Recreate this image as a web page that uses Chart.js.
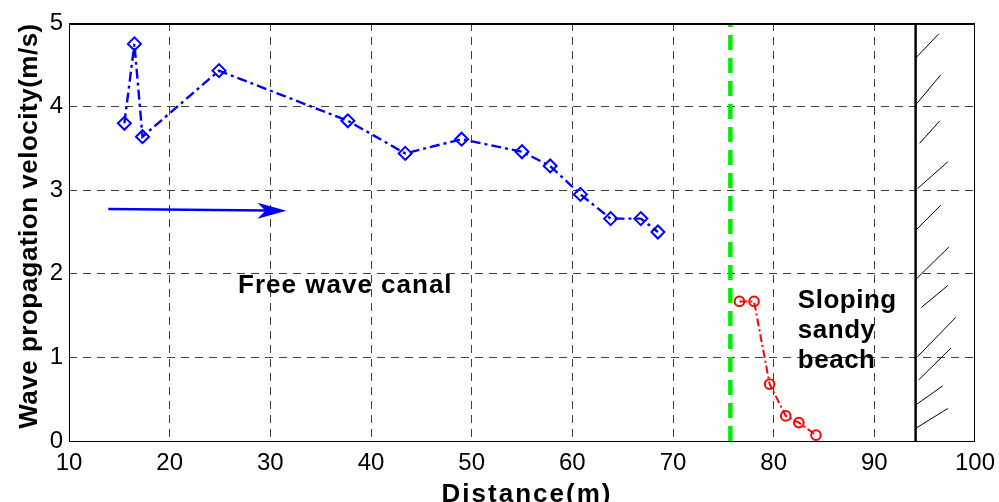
<!DOCTYPE html>
<html>
<head>
<meta charset="utf-8">
<script src="https://cdn.jsdelivr.net/npm/chart.js@4.4.1/dist/chart.umd.min.js"></script>
<style>
  html, body { margin: 0; padding: 0; background: #fff; }
  #wrap { width: 999px; height: 502px; }
</style>
</head>
<body>
<div id="wrap"><canvas id="grafico" width="999" height="502"></canvas></div>
<script>
// dados
var distCanal = [15.5, 16.5, 17.3, 24.9, 37.7, 43.4, 49.0, 55.0, 57.8, 60.8, 63.8, 66.8, 68.5];
var velCanal  = [3.80, 4.75, 3.64, 4.43, 3.83, 3.44, 3.61, 3.46, 3.29, 2.95, 2.66, 2.66, 2.50];
var distPraia = [76.6, 78.05, 79.6, 81.2, 82.5, 84.2];
var velPraia  = [1.67, 1.67, 0.68, 0.30, 0.22, 0.07];
var xTicks = [10, 20, 30, 40, 50, 60, 70, 80, 90, 100];
var yTicks = [0, 1, 2, 3, 4, 5];
var linhaVerde = 75.7;   // inicio da praia
var parede = 94.1;       // parede do fundo
// hachura da parede: [x1, y1, x2, y2]
var hachura = [
  [94.1, 4.58, 96.4, 4.87],
  [94.1, 4.02, 96.6, 4.38],
  [94.5, 3.56, 96.5, 3.83],
  [94.3, 3.02, 97.3, 3.34],
  [94.1, 2.52, 96.6, 2.82],
  [94.1, 1.93, 97.4, 2.32],
  [94.7, 1.60, 97.3, 1.86],
  [94.3, 1.01, 98.1, 1.48],
  [94.4, 0.73, 97.6, 1.11],
  [94.1, 0.43, 96.8, 0.66],
  [94.1, 0.15, 97.3, 0.39]
];
var setaIni = [13.9, 2.775];
var setaFim = [31.6, 2.755];

var fonte = "'Liberation Sans', Arial, sans-serif";

function pontos(xs, ys) {
  var arr = [];
  for (let i = 0; i < xs.length; i++) arr.push({x: xs[i], y: ys[i]});
  return arr;
}

var datasets = [{
    data: pontos(distCanal, velCanal),
    showLine: true,
    borderColor: '#0000ff',
    borderWidth: 2.4,
    borderDash: [10, 4, 3, 4],
    pointStyle: 'rectRot',
    pointRadius: 6.5,
    pointBorderWidth: 2,
    pointBorderColor: '#0000ff',
    pointBackgroundColor: 'rgba(0,0,0,0)'
  }, {
    data: pontos(distPraia, velPraia),
    showLine: true,
    borderColor: '#ff0000',
    borderWidth: 2,
    borderDash: [8, 3, 2, 3],
    pointStyle: 'circle',
    pointRadius: 4.8,
    pointBorderWidth: 2,
    pointBorderColor: '#ff0000',
    pointBackgroundColor: 'rgba(0,0,0,0)'
  }, {
    data: [{x: linhaVerde, y: 0}, {x: linhaVerde, y: 5}],
    showLine: true,
    borderColor: '#00ee00',
    borderWidth: 4.5,
    borderDash: [15, 8],
    pointRadius: 0
  }, {
    data: [{x: parede, y: 0}, {x: parede, y: 5}],
    showLine: true,
    borderColor: '#000',
    borderWidth: 2.5,
    pointRadius: 0
  }];

for (let i = 0; i < hachura.length; i++) {
  var h = hachura[i];
  datasets.push({
    data: [{x: h[0], y: h[1]}, {x: h[2], y: h[3]}],
    showLine: true,
    borderColor: '#000',
    borderWidth: 1,
    pointRadius: 0
  });
}

function corGrade(inicio, fim) {
  return function(c) {
    if (!c.tick) return 'rgba(0,0,0,0)';
    var v = c.tick.value;
    return (v === inicio || v === fim) ? 'rgba(0,0,0,0)' : 'rgba(0,0,0,0.75)';
  };
}

// seta, textos e moldura
var extras = {
  id: 'extras',
  afterDatasetsDraw: function(chart) {
    var ctx = chart.ctx, xs = chart.scales.x, ys = chart.scales.y, a = chart.chartArea;
    ctx.save();
    // moldura
    ctx.strokeStyle = '#000';
    ctx.lineWidth = 1;
    ctx.strokeRect(a.left + 0.5, a.top + 0.5, a.right - a.left - 1, a.bottom - a.top);
    ctx.lineWidth = 2;
    ctx.beginPath(); ctx.moveTo(a.left, a.top + 1); ctx.lineTo(a.right, a.top + 1); ctx.stroke();

    // seta azul
    var x1 = xs.getPixelForValue(setaIni[0]), y1 = ys.getPixelForValue(setaIni[1]);
    var x2 = xs.getPixelForValue(setaFim[0]), y2 = ys.getPixelForValue(setaFim[1]);
    ctx.strokeStyle = '#0000ff';
    ctx.fillStyle = '#0000ff';
    ctx.lineWidth = 2.5;
    ctx.beginPath(); ctx.moveTo(x1, y1); ctx.lineTo(x2 - 20, y2 - 0.2); ctx.stroke();
    ctx.beginPath();
    ctx.moveTo(x2, y2);
    ctx.lineTo(x2 - 29, y2 - 8);
    ctx.lineTo(x2 - 21, y2);
    ctx.lineTo(x2 - 29, y2 + 8);
    ctx.closePath();
    ctx.fill();

    // textos
    ctx.fillStyle = '#000';
    ctx.font = 'bold 26px ' + fonte;
    ctx.textBaseline = 'alphabetic';
    ctx.textAlign = 'left';
    ctx.letterSpacing = '1px';
    ctx.fillText('Free wave canal', xs.getPixelForValue(26.8), ys.getPixelForValue(1.77));
    ctx.letterSpacing = '0.5px';
    var bx = xs.getPixelForValue(82.4);
    ctx.fillText('Sloping', bx, ys.getPixelForValue(1.59));
    ctx.fillText('sandy', bx, ys.getPixelForValue(1.23));
    ctx.fillText('beach', bx, ys.getPixelForValue(0.87));

    ctx.textAlign = 'center';
    ctx.letterSpacing = '2px';
    ctx.fillText('Distance(m)', 527, 502);

    ctx.letterSpacing = '0.5px';
    ctx.translate(37, 226);
    ctx.rotate(-Math.PI / 2);
    ctx.fillText('Wave propagation velocity(m/s)', 0, 0);
    ctx.restore();
  }
};

var ctx = document.getElementById('grafico').getContext('2d');
var grafico = new Chart(ctx, {
  type: 'scatter',
  data: { datasets: datasets },
  options: {
    responsive: false,
    animation: false,
    layout: { padding: { top: 23, right: 24, left: 0, bottom: 0 } },
    plugins: { legend: { display: false }, tooltip: { enabled: false } },
    scales: {
      x: {
        type: 'linear',
        min: 10, max: 100,
        afterFit: function(s) { s.height = 61; s.paddingLeft = 0; s.paddingRight = 0; },
        afterBuildTicks: function(s) { s.ticks = xTicks.map(v => ({value: v})); },
        border: { display: false, dash: [8, 6] },
        grid: { color: corGrade(10, 100), lineWidth: 1, drawTicks: false },
        ticks: { color: '#000', padding: 8, maxRotation: 0, font: { family: fonte, size: 24 } }
      },
      y: {
        type: 'linear',
        min: 0, max: 5,
        afterFit: function(s) { s.width = 69; s.paddingTop = 0; s.paddingBottom = 0; },
        afterBuildTicks: function(s) { s.ticks = yTicks.map(v => ({value: v})); },
        border: { display: false, dash: [8, 6] },
        grid: { color: corGrade(0, 5), lineWidth: 1, drawTicks: false },
        ticks: { color: '#000', padding: 6, font: { family: fonte, size: 24 } }
      }
    }
  },
  plugins: [extras]
});
</script>
</body>
</html>
